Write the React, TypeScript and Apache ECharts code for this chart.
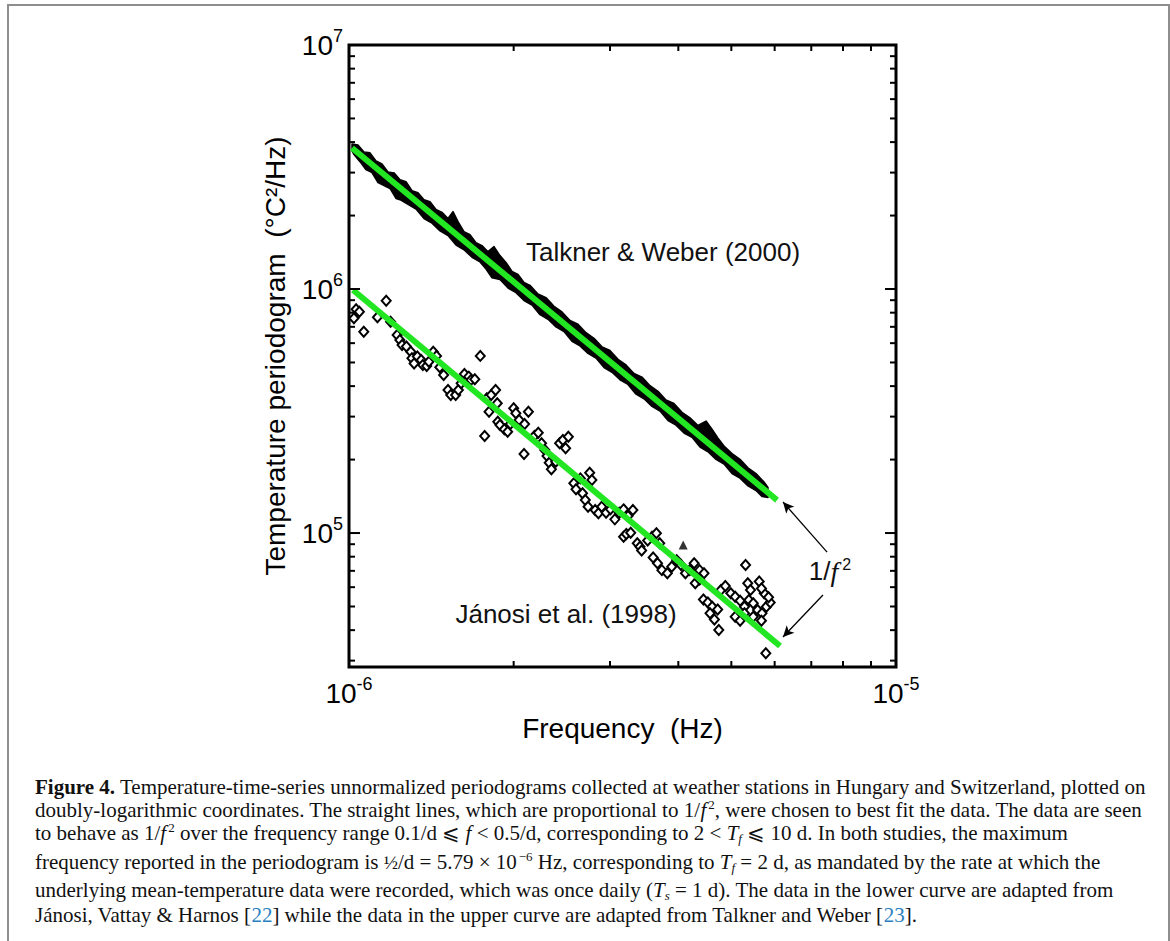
import React, { useEffect, useRef } from 'react';
import * as echarts from 'echarts';

// Axis extents (Hz, °C²/Hz)
const X_MIN = 1e-6;
const X_MAX = 1e-5;
const Y_MIN = 2.825e4;
const Y_MAX = 1e7;

// Jánosi et al. (1998) periodogram points as [log10 f (Hz), log10 P (°C²/Hz)]
const janosiPoints: [number, number][] = [
  [-5.987, 5.917], [-5.981, 5.907], [-5.973, 5.825], [-5.991, 5.88], [-5.948, 5.884],
  [-5.932, 5.952], [-5.924, 5.866], [-5.912, 5.812], [-5.907, 5.791], [-5.903, 5.771],
  [-5.895, 5.764], [-5.887, 5.743], [-5.885, 5.716], [-5.881, 5.695], [-5.875, 5.723],
  [-5.868, 5.709], [-5.865, 5.689], [-5.858, 5.685], [-5.854, 5.702], [-5.846, 5.743],
  [-5.84, 5.726], [-5.834, 5.679], [-5.827, 5.648], [-5.819, 5.586], [-5.814, 5.566],
  [-5.805, 5.566], [-5.8, 5.586], [-5.795, 5.614], [-5.789, 5.652], [-5.781, 5.641],
  [-5.777, 5.627], [-5.77, 5.63], [-5.76, 5.726], [-5.748, 5.552], [-5.744, 5.497],
  [-5.74, 5.566], [-5.732, 5.586], [-5.729, 5.532], [-5.752, 5.398], [-5.728, 5.456],
  [-5.724, 5.443], [-5.716, 5.425], [-5.71, 5.415], [-5.705, 5.447], [-5.699, 5.511],
  [-5.695, 5.491], [-5.689, 5.463], [-5.679, 5.447], [-5.672, 5.497], [-5.68, 5.324],
  [-5.661, 5.398], [-5.654, 5.411], [-5.648, 5.368], [-5.642, 5.34], [-5.638, 5.316],
  [-5.634, 5.288], [-5.63, 5.261], [-5.622, 5.292], [-5.615, 5.368], [-5.609, 5.381],
  [-5.604, 5.347], [-5.599, 5.395], [-5.589, 5.204], [-5.585, 5.179], [-5.577, 5.224],
  [-5.573, 5.163], [-5.568, 5.135], [-5.563, 5.108], [-5.56, 5.247], [-5.556, 5.217],
  [-5.55, 5.094], [-5.544, 5.081], [-5.538, 5.108], [-5.53, 5.083], [-5.522, 5.097],
  [-5.514, 5.056], [-5.506, 5.083], [-5.498, 5.097], [-5.49, 5.07], [-5.481, 5.094],
  [-5.498, 4.985], [-5.493, 4.996], [-5.485, 5.001], [-5.473, 4.958], [-5.468, 4.944],
  [-5.465, 4.928], [-5.454, 4.969], [-5.446, 4.985], [-5.438, 4.999], [-5.432, 4.958],
  [-5.444, 4.9], [-5.436, 4.876], [-5.428, 4.848], [-5.418, 4.835], [-5.41, 4.862],
  [-5.401, 4.889], [-5.393, 4.869], [-5.385, 4.835], [-5.377, 4.848], [-5.369, 4.876],
  [-5.359, 4.848], [-5.351, 4.835], [-5.367, 4.794], [-5.359, 4.81], [-5.352, 4.728],
  [-5.344, 4.715], [-5.336, 4.698], [-5.326, 4.687], [-5.34, 4.671], [-5.332, 4.646],
  [-5.324, 4.603], [-5.32, 4.767], [-5.312, 4.783], [-5.302, 4.753], [-5.294, 4.739],
  [-5.285, 4.723], [-5.277, 4.698], [-5.269, 4.726], [-5.261, 4.712], [-5.253, 4.685],
  [-5.245, 4.671], [-5.237, 4.698], [-5.23, 4.715], [-5.241, 4.753], [-5.233, 4.737],
  [-5.275, 4.869], [-5.271, 4.794], [-5.266, 4.767], [-5.25, 4.801], [-5.246, 4.773],
  [-5.294, 4.657], [-5.285, 4.641], [-5.277, 4.671], [-5.261, 4.657], [-5.246, 4.641],
  [-5.238, 4.507],
];
const janosiTriangle: [number, number][] = [[-5.389, 4.951]];

// Talkner & Weber (2000): outline of the dense black trace, [log10 f, log10 P]
const talknerUpperEdge: [number, number][] = [
  [-5.9945, 6.594], [-5.9836, 6.59], [-5.9726, 6.562], [-5.9616, 6.558], [-5.9506, 6.525],
  [-5.9397, 6.513], [-5.9287, 6.48], [-5.9177, 6.476], [-5.9068, 6.448], [-5.8958, 6.44],
  [-5.8848, 6.403], [-5.8739, 6.395], [-5.8629, 6.366], [-5.8519, 6.358], [-5.841, 6.326],
  [-5.83, 6.314], [-5.819, 6.289], [-5.8099, 6.317], [-5.8007, 6.276], [-5.7898, 6.235],
  [-5.7788, 6.223], [-5.7678, 6.19], [-5.7569, 6.178], [-5.7459, 6.153], [-5.7349, 6.174],
  [-5.724, 6.137], [-5.713, 6.109], [-5.702, 6.072], [-5.691, 6.06], [-5.6801, 6.027],
  [-5.6691, 6.015], [-5.6545, 5.98], [-5.6399, 5.965], [-5.6252, 5.929], [-5.6106, 5.906],
  [-5.596, 5.871], [-5.5814, 5.856], [-5.5667, 5.821], [-5.5521, 5.798], [-5.5375, 5.763],
  [-5.5229, 5.748], [-5.5082, 5.712], [-5.4936, 5.689], [-5.479, 5.654], [-5.4644, 5.639],
  [-5.4497, 5.604], [-5.4351, 5.581], [-5.4205, 5.545], [-5.4059, 5.531], [-5.3912, 5.495],
  [-5.3766, 5.472], [-5.362, 5.441], [-5.3473, 5.459], [-5.3364, 5.426], [-5.3254, 5.389],
  [-5.3144, 5.357], [-5.2998, 5.326], [-5.2852, 5.302], [-5.2706, 5.267], [-5.2559, 5.244],
  [-5.2413, 5.209], [-5.234, 5.187],
];
const talknerLowerEdge: [number, number][] = [
  [-5.234, 5.146], [-5.245, 5.15], [-5.2559, 5.174], [-5.2706, 5.193], [-5.2852, 5.225],
  [-5.2998, 5.244], [-5.3144, 5.283], [-5.3291, 5.302], [-5.3437, 5.333], [-5.3583, 5.352],
  [-5.3729, 5.392], [-5.3876, 5.41], [-5.4022, 5.442], [-5.4168, 5.461], [-5.4314, 5.5],
  [-5.4461, 5.519], [-5.4607, 5.55], [-5.4753, 5.569], [-5.49, 5.609], [-5.5046, 5.628],
  [-5.5192, 5.659], [-5.5338, 5.678], [-5.5485, 5.717], [-5.5631, 5.736], [-5.5777, 5.767],
  [-5.5923, 5.786], [-5.607, 5.826], [-5.6216, 5.845], [-5.6362, 5.876], [-5.6508, 5.895],
  [-5.6655, 5.934], [-5.6801, 5.953], [-5.6947, 5.985], [-5.7093, 6.004], [-5.724, 6.039],
  [-5.7386, 6.046], [-5.7495, 6.082], [-5.7605, 6.111], [-5.7751, 6.13], [-5.7898, 6.161],
  [-5.8044, 6.18], [-5.819, 6.219], [-5.8336, 6.238], [-5.8483, 6.27], [-5.8629, 6.289],
  [-5.8775, 6.328], [-5.8921, 6.347], [-5.9068, 6.366], [-5.9141, 6.371], [-5.9251, 6.412],
  [-5.936, 6.424], [-5.947, 6.436], [-5.958, 6.477], [-5.9689, 6.489], [-5.9799, 6.522],
  [-5.9909, 6.551], [-5.9945, 6.566],
];

// 1/f^2 fitted lines, [log10 f, log10 P] end points
const upperFit: [number, number][] = [[-5.9945, 6.578], [-5.2175, 5.135]];
const lowerFit: [number, number][] = [[-5.9927, 5.996], [-5.212, 4.537]];

// Annotation arrows from the "1/f²" label to the ends of the fits
const arrowUpper: [number, number][] = [[-5.126, 4.922], [-5.2066, 5.127]];
const arrowLower: [number, number][] = [[-5.1335, 4.746], [-5.2066, 4.574]];

// Tick values
const xMinorTicks = [2e-6, 3e-6, 4e-6, 5e-6, 6e-6, 7e-6, 8e-6, 9e-6];
const yMinorTicks = [
  3e4, 4e4, 5e4, 6e4, 7e4, 8e4, 9e4,
  2e5, 3e5, 4e5, 5e5, 6e5, 7e5, 8e5, 9e5,
  2e6, 3e6, 4e6, 5e6, 6e6, 7e6, 8e6, 9e6,
];
const yMajorTicks = [1e5, 1e6];

const GREEN = '#22e622';
const SANS = '"Liberation Sans", Arial, sans-serif';
const SERIF = '"Liberation Serif", "Times New Roman", serif';
const CAP = 21;

const lin = (p: [number, number]) => [Math.pow(10, p[0]), Math.pow(10, p[1])];

const powLabel = (v: number) => {
  const e = Math.log10(v);
  const r = Math.round(e);
  if (Math.abs(e - r) > 1e-6) return '';
  return `{b|10}{s|${r}}`;
};

const labelRich = {
  b: { fontSize: 28, fontFamily: SANS, color: '#000', lineHeight: 36 },
  s: { fontSize: 18, fontFamily: SANS, color: '#000', lineHeight: 16, verticalAlign: 'top' },
};

const captionRich = {
  b: { fontWeight: 'bold', fontSize: CAP, fontFamily: SERIF, fill: '#111', lineHeight: 24 },
  i: { fontStyle: 'italic', fontSize: CAP, fontFamily: SERIF, fill: '#111', lineHeight: 24 },
  sup: { fontSize: 13, fontFamily: SERIF, fill: '#111', lineHeight: 14, verticalAlign: 'top', padding: [0, 0, 0, 2] },
  sub: { fontStyle: 'italic', fontSize: 13, fontFamily: SERIF, fill: '#111', lineHeight: 12, verticalAlign: 'bottom' },
  fr: { fontSize: 19, fontFamily: SERIF, fill: '#111', lineHeight: 24 },
  c: { fontSize: CAP, fontFamily: SERIF, fill: '#2a7fc0', lineHeight: 24 },
};

const captionLines: [string, number][] = [
  ['{b|Figure 4.} Temperature-time-series unnormalized periodograms collected at weather stations in Hungary and Switzerland, plotted on', 787],
  ['doubly-logarithmic coordinates. The straight lines, which are proportional to 1/{i|f}{sup|2}, were chosen to best fit the data. The data are seen', 810],
  ['to behave as 1/{i|f}{sup|2} over the frequency range 0.1/d ⩽ {i|f} < 0.5/d, corresponding to 2 < {i|T}{sub|f} ⩽ 10 d. In both studies, the maximum', 833],
  ['frequency reported in the periodogram is {fr|½}/d = 5.79 × 10{sup|−6} Hz, corresponding to {i|T}{sub|f} = 2 d, as mandated by the rate at which the', 862],
  ['underlying mean-temperature data were recorded, which was once daily ({i|T}{sub|s} = 1 d). The data in the lower curve are adapted from', 890],
  ['Jánosi, Vattay & Harnos [{c|22}] while the data in the upper curve are adapted from Talkner and Weber [{c|23}].', 915],
];

export default function App() {
  const ref = useRef<HTMLDivElement>(null);

  useEffect(() => {
    if (!ref.current) return;
    const chart = echarts.init(ref.current, undefined, { renderer: 'svg' });

    const tickLine = (x1: number, y1: number, x2: number, y2: number) => ({
      type: 'line',
      shape: { x1, y1, x2, y2 },
      style: { stroke: '#000', lineWidth: 2 },
    });

    const option: any = {
      animation: false,
      backgroundColor: '#fff',
      grid: {
        left: 349, top: 45, width: 547, height: 622,
        show: true, borderColor: '#000', borderWidth: 3, backgroundColor: 'transparent',
      },
      xAxis: {
        type: 'log', logBase: 10, min: X_MIN, max: X_MAX,
        axisLine: { show: false }, axisTick: { show: false }, splitLine: { show: false },
        axisLabel: { formatter: powLabel, rich: labelRich, margin: 8 },
        name: 'Frequency  (Hz)', nameLocation: 'middle', nameGap: 47,
        nameTextStyle: { fontSize: 28, fontFamily: SANS, color: '#000' },
      },
      yAxis: {
        type: 'log', logBase: 10, min: Y_MIN, max: Y_MAX,
        axisLine: { show: false }, axisTick: { show: false }, splitLine: { show: false },
        axisLabel: { formatter: powLabel, rich: labelRich, margin: 6 },
        name: 'Temperature periodogram  (°C²/Hz)', nameLocation: 'middle', nameGap: 60,
        nameTextStyle: { fontSize: 28, fontFamily: SANS, color: '#000' },
      },
      series: [
        {
          type: 'scatter', name: 'Jánosi et al. (1998)', silent: true, z: 2,
          symbol: 'diamond', symbolSize: [9, 10],
          itemStyle: { color: '#fff', borderColor: '#000', borderWidth: 2, opacity: 1 },
          data: janosiPoints.map(lin),
        },
        {
          type: 'scatter', silent: true, z: 2,
          symbol: 'triangle', symbolSize: 9,
          itemStyle: { color: '#000' },
          data: janosiTriangle.map(lin),
        },
        {
          type: 'custom', name: 'Talkner & Weber (2000)', silent: true, z: 3,
          data: [lin(talknerUpperEdge[0])],
          renderItem: (_p: any, api: any) => {
            const pts = [...talknerUpperEdge, ...talknerLowerEdge].map((p) => api.coord(lin(p)));
            return { type: 'polygon', shape: { points: pts }, style: { fill: '#000', stroke: '#000', lineWidth: 1.5, lineJoin: 'round' } };
          },
        },
        {
          type: 'line', silent: true, z: 4, symbol: 'none',
          lineStyle: { color: GREEN, width: 6 },
          data: upperFit.map(lin),
        },
        {
          type: 'line', silent: true, z: 4, symbol: 'none',
          lineStyle: { color: GREEN, width: 6 },
          data: lowerFit.map(lin),
          markLine: {
            silent: true, symbol: ['none', 'arrow'], symbolSize: [8, 11],
            lineStyle: { color: '#000', width: 1.3, type: 'solid' },
            label: { show: false },
            data: [
              [{ coord: lin(arrowUpper[0]) }, { coord: lin(arrowUpper[1]) }],
              [{ coord: lin(arrowLower[0]) }, { coord: lin(arrowLower[1]) }],
            ],
          },
        },
        {
          type: 'custom', silent: true, z: 5, clip: false,
          encode: { x: 0, y: 1 },
          data: xMinorTicks.map((v) => [v, Y_MIN, 6]),
          renderItem: (_p: any, api: any) => {
            const v = api.value(0);
            const len = api.value(2);
            const b = api.coord([v, Y_MIN]);
            const t = api.coord([v, Y_MAX]);
            return { type: 'group', children: [tickLine(b[0], b[1], b[0], b[1] - len), tickLine(t[0], t[1], t[0], t[1] + len)] };
          },
        },
        {
          type: 'custom', silent: true, z: 5, clip: false,
          encode: { x: 0, y: 1 },
          data: [...yMinorTicks.map((v) => [X_MIN, v, 6]), ...yMajorTicks.map((v) => [X_MIN, v, 11])],
          renderItem: (_p: any, api: any) => {
            const v = api.value(1);
            const len = api.value(2);
            const l = api.coord([X_MIN, v]);
            const r = api.coord([X_MAX, v]);
            return { type: 'group', children: [tickLine(l[0], l[1], l[0] + len, l[1]), tickLine(r[0], r[1], r[0] - len, r[1])] };
          },
        },
      ],
      graphic: [
        {
          type: 'rect', silent: true, z: 0,
          shape: { x: 8, y: 5, width: 1161, height: 1000 },
          style: { fill: 'transparent', stroke: '#8e8e8e', lineWidth: 2 },
        },
        {
          type: 'text', silent: true, x: 663, y: 252,
          style: { text: 'Talkner & Weber (2000)', font: `26px ${SANS}`, fill: '#111', textAlign: 'center', textVerticalAlign: 'middle' },
        },
        {
          type: 'text', silent: true, x: 566, y: 614,
          style: { text: 'Jánosi et al. (1998)', font: `26px ${SANS}`, fill: '#111', textAlign: 'center', textVerticalAlign: 'middle' },
        },
        {
          type: 'text', silent: true, x: 830, y: 571,
          style: {
            text: '{n|1/}{i|f}{s|2}', font: `26px ${SANS}`, fill: '#111', textAlign: 'center', textVerticalAlign: 'middle',
            rich: {
              n: { fontSize: 26, fontFamily: SANS, fill: '#111', lineHeight: 30 },
              i: { fontSize: 28, fontFamily: SERIF, fontStyle: 'italic', fill: '#111', lineHeight: 30 },
              s: { fontSize: 16, fontFamily: SANS, fill: '#111', lineHeight: 16, verticalAlign: 'top', padding: [0, 0, 0, 4] },
            },
          },
        },
        ...captionLines.map(([text, y]) => ({
          type: 'text', silent: true, x: 35, y,
          style: {
            text, font: `${CAP}px ${SERIF}`, fill: '#111', lineHeight: 24,
            textAlign: 'left', textVerticalAlign: 'middle', rich: captionRich,
          },
        })),
      ],
    };

    chart.setOption(option);
    return () => chart.dispose();
  }, []);

  return (
    <div
      ref={ref}
      style={{ position: 'absolute', left: 0, top: 0, width: 1170, height: 941 }}
    />
  );
}
